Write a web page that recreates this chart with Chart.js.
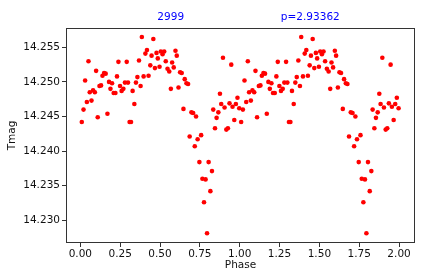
<!DOCTYPE html>
<html>
<head>
<meta charset="utf-8">
<script src="https://cdn.jsdelivr.net/npm/chart.js@4"></script>
<style>
    html, body { margin: 0; padding: 0; background: #fff; }
    #lc { display: block; }
</style>
</head>
<body>
<canvas id="lc" width="436" height="273"></canvas>
<script>
// folded light curve, one cycle
const phase = [
    0.009, 0.020, 0.030, 0.041, 0.051, 0.059, 0.070, 0.080, 0.091, 0.099,
    0.109, 0.120, 0.130, 0.139, 0.149, 0.159, 0.170, 0.180, 0.189, 0.199,
    0.209, 0.220, 0.230, 0.239, 0.249, 0.259, 0.270, 0.280, 0.291, 0.299,
    0.309, 0.318, 0.328, 0.339, 0.349, 0.358, 0.368, 0.378, 0.386, 0.397,
    0.408, 0.418, 0.428, 0.439, 0.447, 0.458, 0.468, 0.478, 0.486, 0.497,
    0.505, 0.516, 0.526, 0.536, 0.547, 0.558, 0.568, 0.576, 0.586, 0.597,
    0.605, 0.616, 0.626, 0.636, 0.647, 0.655, 0.666, 0.676, 0.686, 0.697,
    0.708, 0.718, 0.726, 0.736, 0.747, 0.758, 0.766, 0.776, 0.786, 0.795,
    0.805, 0.816, 0.826, 0.834, 0.845, 0.855, 0.866, 0.876, 0.884, 0.895,
    0.905, 0.916, 0.926, 0.936, 0.947, 0.955, 0.966, 0.976, 0.986, 0.997
];
const tmag = [
    14.2442, 14.2460, 14.2502, 14.2471, 14.2530, 14.2485, 14.2473, 14.2488, 14.2485, 14.2516,
    14.2449, 14.2494, 14.2495, 14.2509, 14.2513, 14.2512, 14.2454, 14.2500, 14.2490, 14.2498,
    14.2484, 14.2484, 14.2508, 14.2529, 14.2494, 14.2487, 14.2490, 14.2499, 14.2529, 14.2499,
    14.2442, 14.2442, 14.2487, 14.2468, 14.2499, 14.2507, 14.2531, 14.2494, 14.2565, 14.2508,
    14.2541, 14.2546, 14.2509, 14.2524, 14.2538, 14.2562, 14.2520, 14.2542, 14.2534, 14.2522,
    14.2544, 14.2540, 14.2544, 14.2530, 14.2519, 14.2515, 14.2490, 14.2528, 14.2521, 14.2545,
    14.2538, 14.2492, 14.2514, 14.2513, 14.2461, 14.2504, 14.2498, 14.2497, 14.2421, 14.2456,
    14.2455, 14.2407, 14.2450, 14.2417, 14.2384, 14.2423, 14.2360, 14.2326, 14.2359, 14.2281,
    14.2384, 14.2342, 14.2371, 14.2460, 14.2433, 14.2448, 14.2456, 14.2483, 14.2468, 14.2535,
    14.2463, 14.2431, 14.2433, 14.2469, 14.2525, 14.2464, 14.2445, 14.2468, 14.2477, 14.2462
];
const xTicks = [0, 0.25, 0.5, 0.75, 1.0, 1.25, 1.5, 1.75, 2.0];
const yTicks = [14.230, 14.235, 14.240, 14.245, 14.250, 14.255];
const starId = '2999';
const periodLabel = 'p=2.93362';

// the plot shows the fold twice: phase and phase + 1
const points = [];
for (let k = 0; k < 2; k++) {
    phase.forEach((p, i) => points.push({x: p + k, y: tmag[i]}));
}

const FONT = 'DejaVu Sans';

const frame = {
    id: 'frame',
    afterDraw(chart) {
        const {ctx, chartArea: a} = chart;
        ctx.save();
        ctx.strokeStyle = '#333';
        ctx.lineWidth = 1;
        ctx.strokeRect(a.left + 0.5, a.top + 0.5, a.right - a.left - 1, a.bottom - a.top - 1);

        ctx.fillStyle = '#0000ff';
        ctx.font = '10.5px "' + FONT + '"';
        ctx.textAlign = 'center';
        ctx.textBaseline = 'middle';
        const w = a.right - a.left;
        ctx.fillText(starId, a.left + 0.3 * w, a.top - 11);
        ctx.fillText(periodLabel, a.left + 0.7 * w, a.top - 11);
        ctx.restore();
    }
};

new Chart(document.getElementById('lc'), {
    type: 'scatter',
    data: {
        datasets: [{
            data: points,
            backgroundColor: '#ff0000',
            borderWidth: 0,
            pointRadius: 2.3,
            pointHoverRadius: 2.3
        }]
    },
    options: {
        responsive: false,
        animation: false,
        events: [],
        layout: {padding: {left: 0, top: 28, right: 21, bottom: 0}},
        plugins: {
            legend: {display: false},
            tooltip: {enabled: false}
        },
        scales: {
            x: {
                type: 'linear',
                min: -0.09,
                max: 2.1,
                afterFit: s => { s.height = 30; },
                afterBuildTicks: s => { s.ticks = xTicks.map(v => ({value: v})); },
                grid: {drawOnChartArea: false, drawTicks: true, tickLength: 4, color: '#333'},
                border: {display: false},
                ticks: {
                    padding: 1,
                    color: '#111',
                    maxRotation: 0,
                    font: {family: FONT, size: 10.5},
                    callback: v => v.toFixed(2)
                },
                title: {
                    display: true,
                    text: 'Phase',
                    color: '#111',
                    padding: {top: 0, bottom: 1},
                    font: {family: FONT, size: 10.5}
                }
            },
            y: {
                type: 'linear',
                min: 14.2267,
                max: 14.2578,
                afterFit: s => { s.width = 66; },
                afterBuildTicks: s => { s.ticks = yTicks.map(v => ({value: v})); },
                grid: {drawOnChartArea: false, drawTicks: true, tickLength: 4, color: '#333'},
                border: {display: false},
                ticks: {
                    padding: 2,
                    color: '#111',
                    font: {family: FONT, size: 10.5},
                    callback: v => v.toFixed(3)
                },
                title: {
                    display: true,
                    text: 'Tmag',
                    color: '#111',
                    padding: {top: 6, bottom: 0},
                    font: {family: FONT, size: 10.5}
                }
            }
        }
    },
    plugins: [frame]
});
</script>
</body>
</html>
